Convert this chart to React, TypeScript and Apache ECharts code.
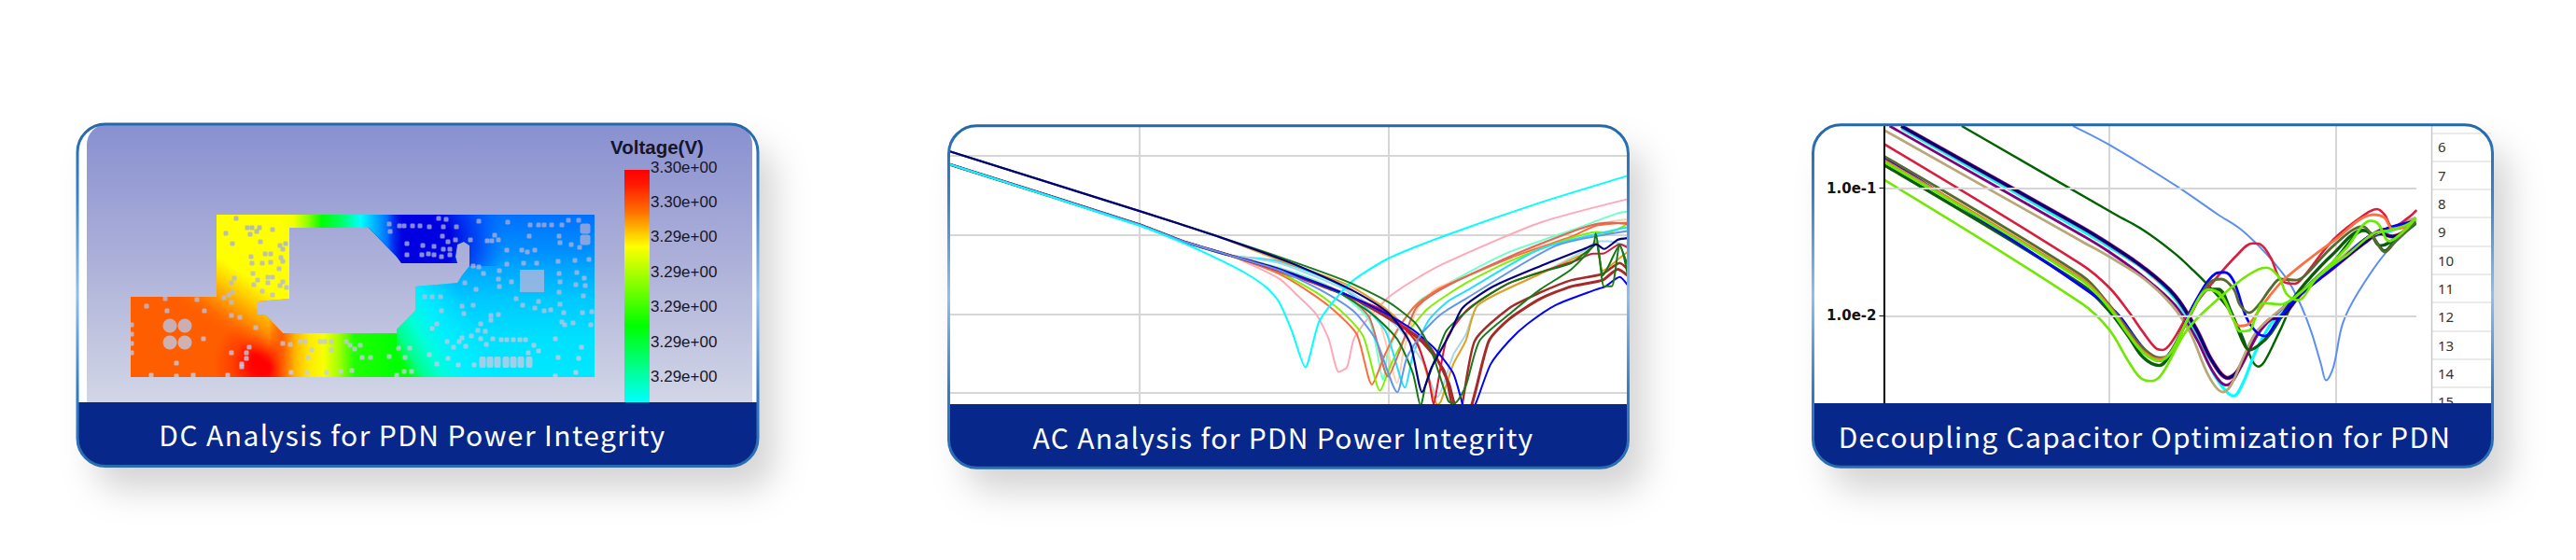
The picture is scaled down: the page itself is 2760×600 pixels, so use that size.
import React, { useEffect, useRef } from "react";
import * as echarts from "echarts";

type P = number[][];

// ---------- titles & tick labels ----------
const cardTitles = [
  "DC Analysis for PDN Power Integrity",
  "AC Analysis for PDN Power Integrity",
  "Decoupling Capacitor Optimization for PDN",
];
const voltageTitle = "Voltage(V)";
const voltageTicks = ["3.30e+00", "3.30e+00", "3.29e+00", "3.29e+00", "3.29e+00", "3.29e+00", "3.29e+00"];
const rowLabels = ["6", "7", "8", "9", "10", "11", "12", "13", "14", "15"];

// ---------- AC analysis curves: [log10 frequency, log10 impedance] ----------
const acTrunkHigh: P = [[4.236, 1.059], [5, 0.303], [5.297, 0]];
const acTrunkLow: P = [[4.236, 0.894], [5, 0.13], [5.173, -0.078], [5.36, -0.255]];
const acCyan: P = [[4.236, 0.894], [5, 0.118], [5.173, -0.098], [5.297, -0.275], [5.42, -0.472], [5.51, -0.665], [5.56, -0.846], [5.61, -1.2], [5.666, -1.673], [5.723, -1.083], [5.845, -0.61], [6, -0.295], [6.234, 0], [6.6, 0.4], [6.959, 0.748]];
const acPink: P = [[5.56, -0.551], [5.635, -0.768], [5.71, -1.004], [5.76, -1.319], [5.8, -1.732], [5.833, -1.673], [5.86, -1.319], [5.91, -1.083], [6, -0.787], [6.123, -0.531], [6.234, -0.343], [6.609, 0.157], [6.959, 0.453]];
const acOrangeRed: P = [[5.56, -0.492], [5.685, -0.728], [5.785, -0.965], [5.873, -1.26], [5.933, -1.89], [5.985, -1.516], [6.035, -1.2], [6.11, -0.886], [6.21, -0.669], [6.484, -0.295], [6.734, -0.02], [6.834, 0.118], [6.959, 0.157]];
const acLime: P = [[5.56, -0.472], [5.71, -0.728], [5.81, -0.965], [5.898, -1.28], [5.966, -1.969], [6.01, -1.634], [6.085, -1.2], [6.16, -0.925], [6.31, -0.61], [6.484, -0.335], [6.734, -0.039], [6.834, 0.039], [6.871, 0.02], [6.959, 0.138]];
const acCornflower: P = [[5.56, -0.445], [5.723, -0.689], [5.86, -0.965], [5.948, -1.319], [6.035, -1.988], [6.073, -1.555], [6.135, -1.24], [6.21, -1.004], [6.31, -0.807], [6.671, -0.138], [6.959, 0.051]];
const acAqua: P = [[5.56, -0.413], [5.785, -0.689], [5.923, -1.083], [5.979, -1.831], [5.998, -1.476], [6.06, -1.083], [6.135, -0.807], [6.31, -0.492], [6.484, -0.217], [6.734, 0.059], [6.921, 0.276], [6.959, 0.295]];
const acPeach: P = [[5.56, -0.335], [5.81, -0.63], [5.96, -1.083], [6.035, -1.87], [6.06, -1.476], [6.11, -0.965], [6.185, -0.689], [6.31, -0.531], [6.734, 0.039], [6.834, 0.138], [6.959, 0.197]];
const acCyan2: P = [[5.56, -0.335], [5.81, -0.65], [5.985, -1.2], [6.066, -1.929], [6.098, -1.516], [6.16, -1.083], [6.235, -0.846], [6.31, -0.709], [6.609, -0.177], [6.959, 0.098]];
const acNavy: P = [[5.56, -0.295], [5.685, -0.453], [5.848, -0.689], [5.998, -0.984], [6.085, -1.358], [6.135, -1.988], [6.173, -1.673], [6.248, -1.24], [6.296, -0.925], [6.421, -0.65], [6.609, -0.394], [6.784, -0.177], [6.834, -0.118], [6.865, -0.177], [6.921, -0.059], [6.959, -0.039]];
const acGreen1: P = [[5.56, -0.276], [5.835, -0.591], [5.998, -0.846], [6.11, -1.122], [6.173, -1.476], [6.241, -2.106], [6.266, -2.126], [6.31, -1.909], [6.365, -1.339], [6.484, -1.004], [6.609, -0.689], [6.734, -0.433], [6.821, -0.138], [6.832, 0.02], [6.846, -0.256], [6.865, -0.65], [6.896, -0.65], [6.928, -0.138], [6.959, -0.374]];
const acGreen2: P = [[5.56, -0.433], [5.798, -0.728], [5.935, -1.004], [6.035, -1.319], [6.098, -1.752], [6.129, -2.165], [6.148, -1.909], [6.198, -1.476], [6.234, -1.201], [6.359, -0.846], [6.484, -0.61], [6.609, -0.472], [6.734, -0.354], [6.809, -0.177], [6.834, -0.118], [6.853, -0.413], [6.859, -0.512], [6.928, -0.13], [6.959, -0.492]];
const acOrange: P = [[5.56, -0.315], [5.835, -0.63], [5.985, -0.925], [6.11, -1.319], [6.198, -2.146], [6.21, -2.106], [6.26, -1.634], [6.31, -1.339], [6.359, -0.886], [6.609, -0.492], [6.796, -0.217], [6.834, -0.098], [6.859, -0.453], [6.934, -0.276], [6.959, -0.217]];
const acLightBlue: P = [[5.56, -0.354], [5.848, -0.728], [6.035, -1.161], [6.135, -1.594], [6.198, -2.047], [6.223, -1.87], [6.26, -1.516], [6.31, -1.26], [6.359, -0.886], [6.609, -0.492], [6.796, -0.177], [6.834, -0.079], [6.884, -0.079], [6.959, -0.138]];
const acBlue: P = [[5.56, -0.433], [5.81, -0.728], [5.973, -0.965], [6.098, -1.2], [6.185, -1.437], [6.26, -1.752], [6.298, -2.146], [6.32, -2.3], [6.35, -2.13], [6.41, -1.633], [6.484, -1.339], [6.559, -1.122], [6.671, -0.886], [6.834, -0.689], [6.871, -0.65], [6.928, -0.531], [6.959, -0.63]];
const acBrown: P = [[5.56, -0.445], [5.81, -0.728], [5.973, -1.004], [6.123, -1.319], [6.223, -1.713], [6.254, -2.146], [6.28, -2.3], [6.346, -1.339], [6.484, -0.925], [6.609, -0.728], [6.734, -0.571], [6.859, -0.492], [6.928, -0.354], [6.959, -0.433]];
const acBrown2: P = [[5.56, -0.433], [5.823, -0.748], [5.998, -1.043], [6.16, -1.398], [6.241, -1.87], [6.266, -2.146], [6.31, -2.3], [6.403, -1.339], [6.484, -1.063], [6.609, -0.807], [6.734, -0.65], [6.859, -0.571], [6.921, -0.433], [6.959, -0.512]];
const acCrimson: P = [[5.56, -0.453], [5.748, -0.669], [5.985, -0.965], [6.11, -1.35], [6.16, -1.791], [6.181, -2.146], [6.198, -1.87], [6.235, -1.299], [6.31, -0.965], [6.359, -0.846], [6.484, -0.61], [6.609, -0.472], [6.759, -0.315], [6.821, -0.236], [6.859, -0.236], [6.928, -0.118], [6.959, -0.157]];
const acSalmon: P = [[5.56, -0.472], [5.81, -0.728], [5.923, -1.043], [5.998, -1.791], [6.048, -1.437], [6.11, -0.925], [6.21, -0.689], [6.484, -0.276], [6.734, 0.039], [6.834, 0.138], [6.896, 0.157], [6.959, 0.138]];

// ---------- decoupling curves: [log10 frequency, log10 impedance] ----------
const dcNavy: P = [[5.083, -0.512], [5.877, -1.305], [6, -1.439], [6.151, -1.622], [6.289, -1.841], [6.385, -2.11], [6.453, -2.354], [6.522, -2.488], [6.563, -2.439], [6.618, -2.256], [6.659, -2.122], [6.713, -2.024], [6.754, -2.012], [6.85, -1.817], [6.988, -1.622], [7.125, -1.427], [7.193, -1.354], [7.248, -1.378], [7.289, -1.354], [7.344, -1.268]];
const dcPurple: P = [[5.031, -0.512], [5.877, -1.366], [6, -1.5], [6.151, -1.695], [6.289, -1.915], [6.385, -2.183], [6.453, -2.427], [6.515, -2.544], [6.549, -2.5], [6.604, -2.305], [6.659, -2.134], [6.713, -2.024], [6.85, -1.805], [6.988, -1.61], [7.125, -1.402], [7.193, -1.329], [7.262, -1.305], [7.344, -1.244]];
const dcTan: P = [[5.007, -0.544], [5.877, -1.415], [6, -1.537], [6.151, -1.707], [6.275, -1.915], [6.357, -2.134], [6.439, -2.476], [6.501, -2.598], [6.535, -2.549], [6.59, -2.329], [6.645, -2.134], [6.713, -2.012], [6.85, -1.817], [6.988, -1.598], [7.125, -1.402], [7.234, -1.317], [7.351, -1.232]];
const dcCyan: P = [[5.083, -0.53], [5.877, -1.33], [6, -1.46], [6.151, -1.634], [6.289, -1.866], [6.385, -2.159], [6.467, -2.476], [6.549, -2.629], [6.59, -2.524], [6.645, -2.28], [6.713, -2.061], [6.754, -1.988], [6.85, -1.817], [6.988, -1.622], [7.125, -1.415], [7.248, -1.329], [7.344, -1.268]];
const dcCrimson: P = [[5.007, -0.654], [5.877, -1.598], [6, -1.78], [6.083, -1.963], [6.151, -2.134], [6.206, -2.256], [6.236, -2.268], [6.275, -2.207], [6.357, -1.963], [6.453, -1.744], [6.563, -1.524], [6.631, -1.432], [6.665, -1.439], [6.713, -1.549], [6.747, -1.695], [6.782, -1.744], [6.816, -1.749], [6.85, -1.707], [6.988, -1.402], [7.125, -1.207], [7.18, -1.163], [7.214, -1.207], [7.248, -1.305], [7.317, -1.232], [7.355, -1.171]];
const dcDarkGreen: P = [[5.349, -0.512], [6.028, -1.207], [6.151, -1.329], [6.289, -1.512], [6.371, -1.646], [6.439, -1.768], [6.522, -1.939], [6.577, -2.122], [6.631, -2.354], [6.658, -2.398], [6.686, -2.354], [6.754, -2.11], [6.823, -1.866], [6.988, -1.573], [7.125, -1.334], [7.166, -1.39], [7.214, -1.488], [7.262, -1.402], [7.351, -1.28]];
const dcCornflower: P = [[5.84, -0.512], [6, -0.659], [6.301, -0.988], [6.48, -1.207], [6.576, -1.317], [6.658, -1.451], [6.727, -1.585], [6.795, -1.744], [6.85, -1.939], [6.892, -2.134], [6.933, -2.378], [6.956, -2.507], [6.988, -2.402], [7.029, -2.061], [7.097, -1.817], [7.221, -1.5], [7.344, -1.293]];
const dcOlive: P = [[5.007, -0.749], [5.877, -1.683], [6, -1.915], [6.083, -2.11], [6.151, -2.256], [6.22, -2.329], [6.261, -2.305], [6.357, -1.988], [6.439, -1.744], [6.494, -1.712], [6.549, -1.793], [6.576, -1.915], [6.617, -1.976], [6.658, -1.915], [6.713, -1.78], [6.754, -1.712], [6.823, -1.72], [6.864, -1.683], [6.988, -1.451], [7.118, -1.3], [7.166, -1.39], [7.214, -1.5], [7.262, -1.415], [7.351, -1.268]];
const dcForest: P = [[5.007, -0.817], [5.877, -1.756], [6, -1.963], [6.083, -2.159], [6.151, -2.329], [6.22, -2.39], [6.275, -2.28], [6.357, -1.988], [6.439, -1.793], [6.481, -1.793], [6.535, -1.963], [6.59, -2.207], [6.617, -2.268], [6.658, -2.232], [6.713, -2.134], [6.782, -1.939], [6.864, -1.744], [6.988, -1.512], [7.118, -1.329], [7.152, -1.354], [7.193, -1.451], [7.234, -1.427], [7.351, -1.268]];
const dcBlue: P = [[5.007, -0.76], [6, -1.927], [6.151, -2.256], [6.22, -2.354], [6.289, -2.232], [6.371, -1.915], [6.467, -1.671], [6.508, -1.659], [6.549, -1.732], [6.604, -2.012], [6.652, -2.134], [6.686, -2.159], [6.741, -2.037], [6.823, -1.866], [6.988, -1.622], [7.125, -1.402], [7.221, -1.317], [7.351, -1.256]];
const dcTomato: P = [[5.007, -0.78], [5.877, -1.707], [6, -1.927], [6.083, -2.134], [6.151, -2.28], [6.22, -2.341], [6.275, -2.28], [6.357, -1.988], [6.439, -1.793], [6.494, -1.841], [6.549, -2.037], [6.577, -2.08], [6.617, -2.061], [6.672, -1.927], [6.754, -1.744], [6.85, -1.598], [6.988, -1.415], [7.166, -1.207], [7.214, -1.232], [7.248, -1.317], [7.303, -1.305], [7.351, -1.232]];
const dcChartreuse: P = [[5.007, -0.793], [5.877, -1.72], [6, -1.939], [6.083, -2.146], [6.151, -2.293], [6.22, -2.354], [6.275, -2.28], [6.357, -1.988], [6.439, -1.793], [6.494, -1.841], [6.549, -2.037], [6.576, -2.122], [6.617, -2.115], [6.645, -2.012], [6.679, -1.902], [6.754, -1.91], [6.809, -1.866], [6.919, -1.695], [7.042, -1.476], [7.152, -1.256], [7.186, -1.28], [7.234, -1.415], [7.303, -1.329], [7.351, -1.232]];
const dcLime: P = [[5.007, -0.934], [5.877, -1.902], [6, -2.11], [6.083, -2.354], [6.138, -2.488], [6.186, -2.512], [6.234, -2.451], [6.343, -2.11], [6.481, -1.866], [6.59, -1.707], [6.659, -1.634], [6.693, -1.622], [6.747, -1.695], [6.782, -1.829], [6.83, -1.878], [6.919, -1.695], [7.056, -1.512], [7.166, -1.354], [7.234, -1.329], [7.303, -1.293], [7.351, -1.244]];

// ---------- board (DC plot): outlines in board units ----------
const boardLeft: P = [[0, 88], [92, 88], [92, 0], [170, 0], [170, 90], [136, 93], [136, 107], [145, 108], [163, 127], [175, 127], [175, 174], [0, 174]];
const boardStrip: P = [[145, 108], [163, 127], [285, 127], [285, 174], [145, 174]];
const boardTop: P = [[160, 0], [290, 0], [290, 50], [285, 45], [255, 14], [170, 14], [160, 14]];
const boardRight: P = [[255, 0], [255, 14], [285, 45], [290, 52], [350, 52], [348, 45], [350, 32], [357, 29], [363, 33], [363, 55], [355, 65], [350, 73], [305, 77], [305, 103], [285, 123], [285, 174], [497, 174], [497, 0]];
const boardBlue: P = [[255, 0], [255, 14], [285, 45], [290, 52], [350, 52], [348, 45], [350, 32], [357, 29], [363, 33], [363, 55], [410, 55], [410, 0]];
const boardGreen: P = [[285, 123], [305, 103], [305, 77], [350, 73], [410, 73], [410, 174], [285, 174]];
const viasSmall: P = [[113, 4], [102, 20], [125, 14], [130, 14], [138, 14], [135, 18], [128, 21], [152, 16], [109, 31], [139, 29], [160, 33], [166, 31], [163, 37], [144, 42], [150, 42], [161, 46], [163, 50], [129, 45], [130, 52], [141, 52], [150, 51], [159, 58], [131, 63], [147, 67], [152, 67], [111, 68], [108, 73], [136, 70], [132, 75], [147, 73], [163, 72], [160, 76], [167, 78], [141, 82], [109, 83], [105, 86], [100, 89], [152, 86], [108, 94], [17, 98], [39, 103], [79, 103], [108, 108], [117, 110], [134, 121], [78, 133], [1, 118], [1, 128], [1, 138], [1, 148], [127, 142], [108, 148], [124, 148], [124, 154], [49, 159], [119, 160], [119, 163], [22, 172], [49, 173], [67, 172], [104, 172], [37, 90], [71, 91], [163, 138], [171, 139], [182, 136], [187, 136], [203, 136], [208, 136], [215, 136], [231, 136], [235, 140], [240, 144], [246, 140], [194, 145], [215, 145], [190, 153], [248, 153], [257, 153], [237, 167], [225, 168], [172, 169], [189, 169], [210, 169], [277, 10], [278, 18], [288, 12], [293, 12], [302, 12], [310, 12], [320, 13], [330, 4], [338, 5], [335, 13], [349, 13], [373, 7], [404, 8], [428, 11], [437, 11], [443, 11], [451, 11], [462, 11], [469, 6], [480, 6], [334, 23], [348, 27], [340, 29], [364, 27], [390, 22], [382, 28], [387, 28], [394, 27], [427, 23], [459, 23], [460, 30], [472, 32], [481, 35], [296, 31], [313, 33], [325, 34], [335, 37], [342, 37], [296, 43], [312, 43], [319, 42], [325, 43], [333, 45], [342, 43], [403, 38], [419, 38], [425, 40], [433, 38], [458, 50], [476, 49], [491, 48], [403, 53], [421, 52], [435, 52], [395, 60], [373, 56], [367, 55], [378, 63], [394, 69], [358, 73], [395, 77], [408, 72], [459, 63], [460, 72], [478, 62], [477, 75], [486, 68], [487, 76], [370, 80], [459, 83], [315, 88], [323, 88], [332, 88], [413, 90], [485, 87], [460, 96], [420, 97], [437, 93], [433, 100], [443, 103], [450, 102], [355, 98], [367, 97], [333, 103], [357, 106], [464, 105], [484, 105], [494, 104], [386, 108], [394, 107], [386, 113], [462, 115], [474, 116], [465, 118], [493, 118], [375, 117], [328, 117], [323, 122], [372, 124], [380, 125], [365, 130], [355, 132], [339, 136], [352, 136], [375, 133], [359, 141], [346, 142], [381, 139], [388, 133], [397, 134], [403, 134], [410, 134], [417, 134], [423, 134], [455, 133], [426, 148], [432, 140], [437, 146], [483, 142], [320, 150], [340, 154], [458, 153], [480, 154], [328, 160], [351, 161], [368, 161], [287, 143], [299, 143], [277, 152], [294, 153], [285, 172], [293, 168], [301, 168], [455, 173], [477, 169]];
const viasLarge: P = [[42, 119], [58, 119], [42, 137], [58, 137]];
const viasOval: P = [[377, 158], [385, 158], [393, 158], [402, 158], [410, 158], [418, 158], [427, 158]];
const padsMedium: P = [[487, 15], [487, 27]];
const padBlock: P = [[430, 71]];

type Fill =
  | { kind: "radial"; c: number[]; r: number; stops: [number, string][] }
  | { kind: "linear"; a: number[]; b: number[]; stops: [number, string][] };

const boardLayers: { pts: P; fill: Fill }[] = [
  { pts: boardLeft, fill: { kind: "radial", c: [140, 160], r: 52, stops: [[0, "#ff0000"], [0.22, "#ff0400"], [0.6, "#ff4000"], [1, "#ff5e00"]] } },
  { pts: boardLeft, fill: { kind: "linear", a: [170, 10], b: [90, 130], stops: [[0, "#ffff00"], [0.5, "#ffff00"], [0.62, "#ffd000"], [0.78, "rgba(255,144,0,0.9)"], [0.95, "rgba(255,94,0,0)"], [1, "rgba(255,94,0,0)"]] } },
  { pts: boardStrip, fill: { kind: "linear", a: [148, 0], b: [285, 0], stops: [[0, "rgba(255,40,0,0)"], [0.11, "#ff6000"], [0.21, "#ffb800"], [0.31, "#ffe800"], [0.43, "#f8ff00"], [0.55, "#a0ff00"], [0.67, "#20ff00"], [1, "#00ff00"]] } },
  { pts: boardRight, fill: { kind: "linear", a: [0, 0], b: [0, 174], stops: [[0, "#0070ff"], [0.23, "#0090ff"], [0.34, "#00a8ff"], [0.52, "#00c8ff"], [0.75, "#00e0ff"], [1, "#00e8ff"]] } },
  { pts: boardBlue, fill: { kind: "radial", c: [305, 32], r: 95, stops: [[0, "#0000e0"], [0.4, "#0000e0"], [0.7, "rgba(0,48,240,0.7)"], [1, "rgba(0,80,255,0)"]] } },
  { pts: boardGreen, fill: { kind: "linear", a: [285, 150], b: [365, 105], stops: [[0, "#00ff00"], [0.15, "#00ff90"], [0.35, "#00ffd8"], [0.6, "rgba(0,240,255,0.9)"], [1, "rgba(0,240,255,0)"]] } },
  { pts: boardTop, fill: { kind: "linear", a: [160, 0], b: [295, 0], stops: [[0, "#ffff00"], [0.11, "#f0ff00"], [0.22, "#90ff00"], [0.33, "#00ff00"], [0.48, "#00ff60"], [0.64, "#00ffff"], [0.73, "#00c0ff"], [0.85, "#0070ff"], [1, "rgba(0,0,224,0)"]] } },
];

// ---------- layout ----------
const cards = [
  { x: 83, y: 133, w: 729, h: 366.5, band: 431, title: 442, titleY: 465, spacing: 1.4 },
  { x: 1016.5, y: 134.8, w: 728, h: 366.5, band: 433, title: 1375, titleY: 467.5, spacing: 1.3 },
  { x: 1942.5, y: 133.8, w: 728, h: 366.5, band: 432, title: 2298, titleY: 467, spacing: 1.3 },
];
const NAVY = "#07288a";
const TITLE_FONT = "'Noto Sans CJK SC','Noto Sans',sans-serif";

function holeColor(by: number) {
  const t = (by + 98) / 299;
  const c = (a: number, b: number) => Math.round(a + (b - a) * t);
  return `rgb(${c(138, 208)},${c(146, 212)},${c(208, 230)})`;
}

function holes(data: P, symbol: string, size: number | number[]) {
  return {
    type: "scatter",
    xAxisIndex: 0,
    yAxisIndex: 0,
    data,
    symbol,
    symbolSize: size,
    silent: true,
    z: 3,
    itemStyle: { color: (p: any) => holeColor(p.value[1]) },
  };
}

function curve(xi: number, color: string, pts: P, width: number, smooth: number) {
  return {
    type: "line",
    xAxisIndex: xi,
    yAxisIndex: xi,
    data: pts.map(([u, v]) => [Math.pow(10, u), Math.pow(10, v)]),
    showSymbol: false,
    symbol: "none",
    smooth,
    silent: true,
    clip: true,
    lineStyle: { color, width },
  };
}

function renderLayer(params: any, api: any) {
  const layer = boardLayers[params.dataIndex];
  const points = layer.pts.map((p) => api.coord(p));
  const f = layer.fill;
  let fill: any;
  if (f.kind === "radial") {
    const c = api.coord(f.c);
    const e = api.coord([f.c[0] + f.r, f.c[1]]);
    fill = { type: "radial", x: c[0], y: c[1], r: e[0] - c[0], global: true, colorStops: f.stops.map(([offset, color]) => ({ offset, color })) };
  } else {
    const a = api.coord(f.a);
    const b = api.coord(f.b);
    fill = { type: "linear", x: a[0], y: a[1], x2: b[0], y2: b[1], global: true, colorStops: f.stops.map(([offset, color]) => ({ offset, color })) };
  }
  return { type: "polygon", shape: { points }, style: { fill }, silent: true };
}

const log = (v: number) => Math.pow(10, v);

function buildOption() {
  const elements: any[] = [];
  const borderGrad = {
    type: "linear", x: 0, y: 0, x2: 0, y2: 1,
    colorStops: [
      { offset: 0, color: "#2468aa" }, { offset: 0.22, color: "#3a84cc" }, { offset: 0.5, color: "#8cc0f0" },
      { offset: 0.78, color: "#2f7cc8" }, { offset: 1, color: "#2a6cae" },
    ],
  };
  cards.forEach((c, i) => {
    elements.push({
      type: "rect", z: -5, silent: true,
      shape: { x: c.x, y: c.y, width: c.w, height: c.h, r: 30 },
      style: { fill: "#fff", shadowBlur: 36, shadowOffsetX: 18, shadowOffsetY: 25, shadowColor: "rgba(0,0,0,0.17)" },
    });
    if (i === 0) {
      elements.push({
        type: "rect", z: -4, silent: true,
        shape: { x: 93, y: c.y, width: 713, height: c.band - c.y, r: [22, 22, 0, 0] },
        style: { fill: { type: "linear", x: 0, y: 0, x2: 0, y2: 1, colorStops: [{ offset: 0, color: "#8890d0" }, { offset: 0.5, color: "#adb1d9" }, { offset: 1, color: "#d2d6e6" }] } },
      });
    }
    elements.push({
      type: "rect", z: 100, silent: true,
      shape: { x: c.x, y: c.band, width: c.w, height: c.y + c.h - c.band, r: [0, 0, 30, 30] },
      style: { fill: NAVY },
    });
    elements.push({
      type: "rect", z: 102, silent: true,
      shape: { x: c.x, y: c.y, width: c.w, height: c.h, r: 30 },
      style: { fill: "none", stroke: borderGrad, lineWidth: 3 },
    });
    elements.push({
      type: "text", z: 103, silent: true, x: c.title, y: c.titleY,
      style: { text: cardTitles[i], fill: "#fff", fontSize: 30, fontFamily: TITLE_FONT, align: "center", verticalAlign: "middle" },
    });
  });
  // DC colour bar
  elements.push({
    type: "rect", z: 1, silent: true,
    shape: { x: 669, y: 182, width: 27, height: 249 },
    style: { fill: { type: "linear", x: 0, y: 0, x2: 0, y2: 1, colorStops: [{ offset: 0, color: "#ff0000" }, { offset: 0.06, color: "#ff1800" }, { offset: 0.18, color: "#ff7000" }, { offset: 0.33, color: "#ffff00" }, { offset: 0.67, color: "#00ff00" }, { offset: 1, color: "#00ffff" }] } },
  });
  elements.push({
    type: "text", z: 2, silent: true, x: 704, y: 157,
    style: { text: voltageTitle, fill: "#14162a", fontSize: 20.5, fontWeight: "bold", fontFamily: "'Liberation Sans',sans-serif", align: "center", verticalAlign: "middle" },
  });
  voltageTicks.forEach((t, i) => {
    elements.push({
      type: "text", z: 2, silent: true, x: 697, y: 179 + 37.4 * i,
      style: { text: t, fill: "#14162a", fontSize: 17, fontFamily: "'Liberation Sans',sans-serif", align: "left", verticalAlign: "middle" },
    });
  });
  // rule left of the row table
  elements.push({
    type: "line", z: 1, silent: true,
    shape: { x1: 2605.5, y1: 135, x2: 2605.5, y2: 432 },
    style: { stroke: "#c8c8c8", lineWidth: 1.5 },
  });

  const grid = (x: number, y: number, w: number, h: number) => ({ left: x, top: y, width: w, height: h, containLabel: false });
  const gridLine = { show: true, showMinLine: false, showMaxLine: false, lineStyle: { color: "#d6d6d6", width: 2 } };
  const logAxis = (min: number, max: number, extra: any = {}) => ({
    type: "log", logBase: 10, min: log(min), max: log(max),
    axisLine: { show: false }, axisTick: { show: false }, axisLabel: { show: false },
    splitLine: gridLine, minorTick: { show: false }, minorSplitLine: { show: false }, ...extra,
  });

  const ac = 1, dc = 2;
  const sa = 0.22, sd = 0.35;
  const series: any[] = [
    {
      type: "custom", xAxisIndex: 0, yAxisIndex: 0, silent: true, z: 2, clip: false,
      data: boardLayers.map((l) => l.pts[0]),
      renderItem: renderLayer,
    },
    holes(viasSmall, "roundRect", 5),
    holes(viasLarge, "circle", 15),
    holes(viasOval, "roundRect", [7, 12]),
    holes(padsMedium, "roundRect", 11),
    holes(padBlock, "rect", [26, 24]),
    curve(ac, "#ffa8b8", [...acTrunkLow, ...acPink], 2, sa),
    curve(ac, "#70ffc8", [...acTrunkLow, ...acAqua], 2, sa),
    curve(ac, "#ffcfb0", [...acTrunkLow, ...acPeach], 2, sa),
    curve(ac, "#ff6a3a", [...acTrunkLow, ...acOrangeRed], 2, sa),
    curve(ac, "#80f000", [...acTrunkLow, ...acLime], 2, sa),
    curve(ac, "#20e0ff", [...acTrunkLow, ...acCyan2], 2, sa),
    curve(ac, "#a8d8e8", [...acTrunkLow, ...acLightBlue], 2, sa),
    curve(ac, "#e0a020", [...acTrunkHigh, ...acOrange], 2, sa),
    curve(ac, "#d86a5a", [...acTrunkLow, ...acSalmon], 2, sa),
    curve(ac, "#a52a2a", [...acTrunkLow, ...acBrown], 2.5, sa),
    curve(ac, "#a52a2a", [...acTrunkLow, ...acBrown2], 3, sa),
    curve(ac, "#dc143c", [...acTrunkLow, ...acCrimson], 2, sa),
    curve(ac, "#117711", [...acTrunkLow, ...acGreen2], 2, sa),
    curve(ac, "#0000ff", [...acTrunkLow, ...acBlue], 2, sa),
    curve(ac, "#6495ed", [...acTrunkLow, ...acCornflower], 2, sa),
    curve(ac, "#00ffff", acCyan, 2, sa),
    curve(ac, "#1a7a1a", [...acTrunkHigh, ...acGreen1], 2, sa),
    curve(ac, "#000080", [...acTrunkHigh, ...acNavy], 2.2, sa),
    curve(dc, "#5b8ff0", dcCornflower, 2, sd),
    curve(dc, "#006400", dcDarkGreen, 2.4, sd),
    curve(dc, "#00ffff", dcCyan, 3.2, sd),
    curve(dc, "#d81e3c", dcNavy, 4.4, sd),
    curve(dc, "#000080", dcNavy, 3.2, sd),
    curve(dc, "#800080", dcPurple, 2.8, sd),
    curve(dc, "#b8a878", dcTan, 2.8, sd),
    curve(dc, "#d81e3c", dcCrimson, 2.6, sd),
    curve(dc, "#0b5d0b", dcForest, 3.4, sd),
    curve(dc, "#0000ff", dcBlue, 2.8, sd),
    curve(dc, "#556b2f", dcOlive, 2.8, sd),
    curve(dc, "#ff7040", dcTomato, 2.8, sd),
    curve(dc, "#66ee00", dcChartreuse, 2.8, sd),
    curve(dc, "#70e800", dcLime, 2.6, sd),
  ];

  return {
    animation: false,
    backgroundColor: "#fff",
    graphic: { elements },
    grid: [
      grid(140, 230, 497, 174),
      grid(1017, 135, 728, 298),
      grid(2018.5, 134.5, 570.5, 298.5),
      grid(2606, 142.3, 63, 303),
    ],
    xAxis: [
      { type: "value", gridIndex: 0, min: 0, max: 497, show: false },
      { gridIndex: 1, ...logAxis(4.236, 6.964) },
      { gridIndex: 2, ...logAxis(5.006, 7.354) },
      { type: "value", gridIndex: 3, show: false },
    ],
    yAxis: [
      { type: "value", gridIndex: 0, min: 0, max: 174, inverse: true, show: false },
      { gridIndex: 1, ...logAxis(-2.139, 1.378) },
      {
        gridIndex: 2, ...logAxis(-2.693, -0.508),
        z: 5,
        axisLine: { show: true, onZero: false, lineStyle: { color: "#000", width: 2 } },
        axisTick: { show: true, length: 5, lineStyle: { color: "#000" } },
        axisLabel: {
          show: true, margin: 8, color: "#111", fontSize: 15, fontWeight: "bold",
          fontFamily: "'DejaVu Sans',sans-serif", showMinLabel: false, showMaxLabel: false,
          formatter: (v: number) => v.toExponential(1),
        },
      },
      {
        type: "category", gridIndex: 3, inverse: true, data: rowLabels,
        axisLine: { show: false }, axisTick: { show: false },
        axisLabel: { inside: true, margin: 6, color: "#333", fontSize: 15, fontFamily: "'Noto Sans',sans-serif" },
        splitLine: { show: true, interval: 0, lineStyle: { color: "#ebebeb", width: 2 } },
      },
    ],
    series,
  };
}

export default function App() {
  const ref = useRef<HTMLDivElement>(null);
  useEffect(() => {
    document.body.style.margin = "0";
    const chart = echarts.init(ref.current!, undefined, { renderer: "svg" });
    chart.setOption(buildOption() as any);
    // the titles are letter-spaced: apply it on the rendered SVG text
    ref.current!.querySelectorAll("text").forEach((node) => {
      const i = cardTitles.indexOf(node.textContent || "");
      if (i >= 0) node.setAttribute("letter-spacing", String(cards[i].spacing));
    });
    return () => chart.dispose();
  }, []);
  return <div ref={ref} style={{ width: 2760, height: 600, display: "block" }} />;
}
